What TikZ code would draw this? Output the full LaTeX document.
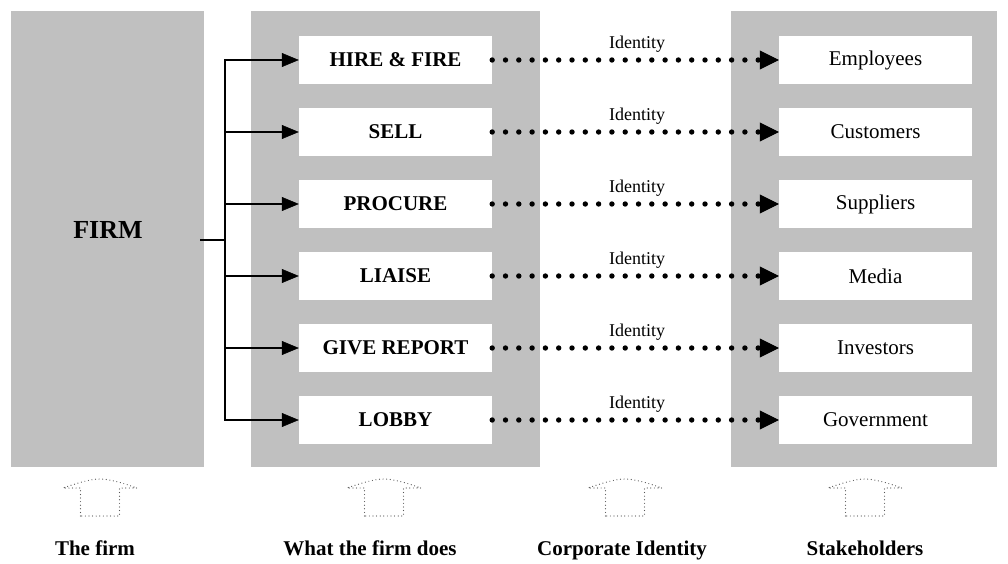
\documentclass[tikz,border=0pt]{standalone}
\usepackage{fontspec}
\setmainfont{Liberation Serif}
\usetikzlibrary{arrows.meta}
\definecolor{panelgrey}{RGB}{192,192,192}
\definecolor{icongrey}{RGB}{85,85,85}
\tikzset{
  panel/.style={fill=panelgrey, draw=none, inner sep=0pt, anchor=north west},
  actbox/.style={fill=white, draw=none, minimum width=193pt, minimum height=48pt,
    inner sep=0pt, font=\fontsize{21}{25}\selectfont\bfseries},
  holderbox/.style={actbox, font=\fontsize{21}{25}\selectfont},
  feed/.style={line width=2pt, -{Triangle[length=17pt,width=14pt,line width=0.5pt]}},
  spine/.style={line width=2pt, line cap=rect},
  identlink/.style={line width=5.4pt, line cap=round, dash pattern=on 0pt off 13.3pt,
    -{Triangle[length=19pt,width=19pt,line width=0.5pt]}},
  identlabel/.style={font=\fontsize{18}{21}\selectfont, inner sep=0pt},
  caption/.style={font=\fontsize{21}{25}\selectfont\bfseries, anchor=base, inner sep=0pt},
  upicon/.pic={
    \draw[icongrey, line width=1.2pt, line cap=round, dash pattern=on 0pt off 3.6pt]
      (-19.5,37) -- (-19.5,9) -- (-37,9)
      .. controls (-20,3) and (-8,0) .. (0,0)
      .. controls (8,0) and (20,3) .. (37,9)
      -- (19.5,9) -- (19.5,37) -- cycle;
  }
}
\begin{document}
\begin{tikzpicture}[x=1pt, y=-1pt]
  \useasboundingbox (0,0) rectangle (1008,564);

  % three grey columns
  \node[panel, minimum width=193pt, minimum height=456pt] (firmpanel) at (11,11) {};
  \node[panel, minimum width=289pt, minimum height=456pt] (actpanel) at (251,11) {};
  \node[panel, minimum width=266pt, minimum height=456pt] (holderpanel) at (731,11) {};

  % the firm and its bracket
  \node[font=\fontsize{26}{30}\selectfont\bfseries, inner sep=0pt] (firm) at (108,230) {FIRM};
  \coordinate (firmtap) at (201,240);
  \coordinate (spinemid) at (225,240);
  \draw[spine] (firmtap) -- (spinemid);

  % activities, identity links and stakeholders
  \foreach \i/\act/\who in {0/HIRE \& FIRE/Employees, 1/SELL/Customers,
      2/PROCURE/Suppliers, 3/LIAISE/Media, 4/GIVE REPORT/Investors,
      5/LOBBY/Government} {
    \node[actbox] (a\i) at (395.5,{60+72*\i}) {\act};
    \node[holderbox] (s\i) at (875.5,{60+72*\i}) {\who};
    \coordinate (t\i) at (225,{60+72*\i});
    \draw[feed] (t\i) -- (a\i.west);
    \draw[identlink] (a\i.east) -- (s\i.west);
    \node[identlabel] (l\i) at (637,{44+72*\i}) {Identity};
  }
  \draw[spine] (t0) -- (t5);

  % upward markers and captions
  \pic (u1) at (100,479) {upicon};
  \pic (u2) at (384,479) {upicon};
  \pic (u3) at (625,479) {upicon};
  \pic (u4) at (865,479) {upicon};

  \node[caption] (c1) at (95,555) {The firm};
  \node[caption] (c2) at (370,555) {What the firm does};
  \node[caption] (c3) at (622,555) {Corporate Identity};
  \node[caption] (c4) at (865,555) {Stakeholders};
\end{tikzpicture}
\end{document}
